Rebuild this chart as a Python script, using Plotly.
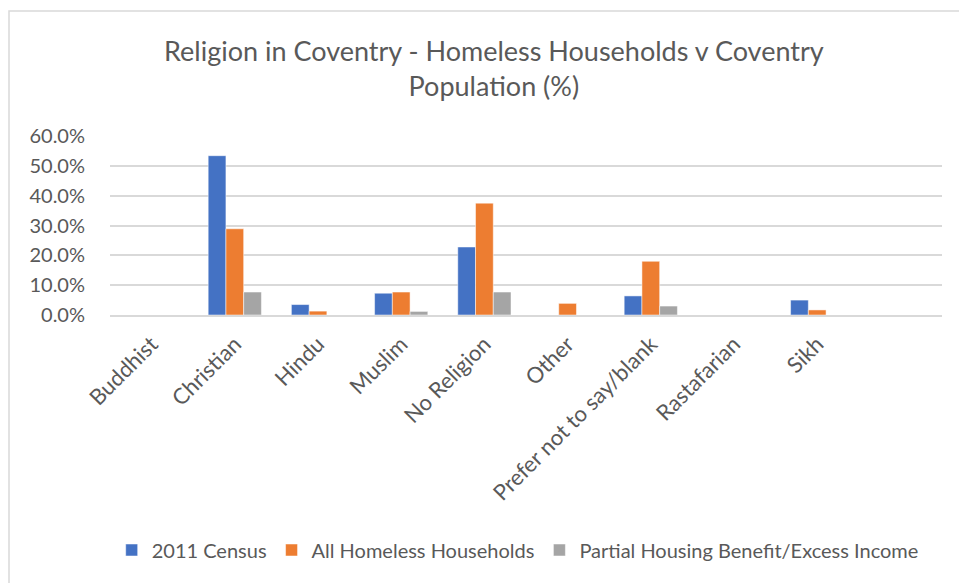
import plotly.graph_objects as go

categories = ["Buddhist", "Christian", "Hindu", "Muslim", "No Religion", "Other",
              "Prefer not to say/blank", "Rastafarian", "Sikh", " "]
census_2011 = [0.0, 53.4, 3.5, 7.3, 22.8, 0.0, 6.4, 0.0, 5.0, None]
all_homeless = [0.0, 28.9, 1.3, 7.7, 37.5, 3.9, 18.0, 0.0, 1.7, None]
partial_hb = [0.0, 7.7, 0.0, 1.2, 7.7, 0.0, 3.0, 0.0, 0.0, None]
y_ticks = [0, 10, 20, 30, 40, 50, 60]
y_ticklabels = ["0.0%", "10.0%", "20.0%", "30.0%", "40.0%", "50.0%", "60.0%"]

FONT = "Lato"
TXT = "#595959"

fig = go.Figure()
series = [("2011 Census", census_2011, "#4472C4"),
          ("All Homeless Households", all_homeless, "#ED7D31"),
          ("Partial Housing Benefit/Excess Income", partial_hb, "#A5A5A5")]
for name, vals, col in series:
    fig.add_trace(go.Bar(x=categories, y=vals, name=name,
                         marker=dict(color=col, line=dict(color="white", width=0.5))))

W, H = 959, 583
L, R, T, B = 110, 17, 136, 268

fig.update_layout(
    width=W, height=H,
    margin=dict(l=L, r=R, t=T, b=B),
    paper_bgcolor="white", plot_bgcolor="white",
    barmode="group", bargap=0.36, bargroupgap=0,
    font=dict(family=FONT, color=TXT, size=16),
    title=dict(text="Religion in Coventry - Homeless Households v Coventry<br>Population (%)",
               x=0.515, xanchor="center", y=1 - 61 / H, yanchor="top",
               font=dict(family=FONT, size=27, color=TXT)),
    legend=dict(orientation="h", x=0.49, xanchor="center", y=-(550 - 315) / (H - T - B),
                yanchor="middle", font=dict(size=20, color=TXT),
                itemwidth=30, traceorder="normal"),
    xaxis=dict(tickangle=-45, showgrid=False, showline=True, linecolor="#D9D9D9", linewidth=1.5,
               tickfont=dict(size=22, color=TXT), ticks="", automargin=False,
               ticklabelstandoff=6),
    yaxis=dict(range=[0, 60], tickvals=y_ticks, ticktext=y_ticklabels,
               showgrid=True, gridcolor="#D9D9D9", gridwidth=1.5, automargin=False,
               zeroline=False, showline=False, ticks="outside", ticklen=20,
               tickcolor="rgba(0,0,0,0)", tickfont=dict(size=20, color=TXT)),
    shapes=[dict(type="rect", xref="paper", yref="paper",
                 x0=(9 - L) / (W - L - R), x1=(W + 20 - L) / (W - L - R),
                 y0=-(H + 20 - (H - B)) / (H - T - B), y1=(H - 11 - B) / (H - T - B),
                 line=dict(color="#D9D9D9", width=1.5), fillcolor="rgba(0,0,0,0)", layer="below")],
)

fig.write_html("out.html")
